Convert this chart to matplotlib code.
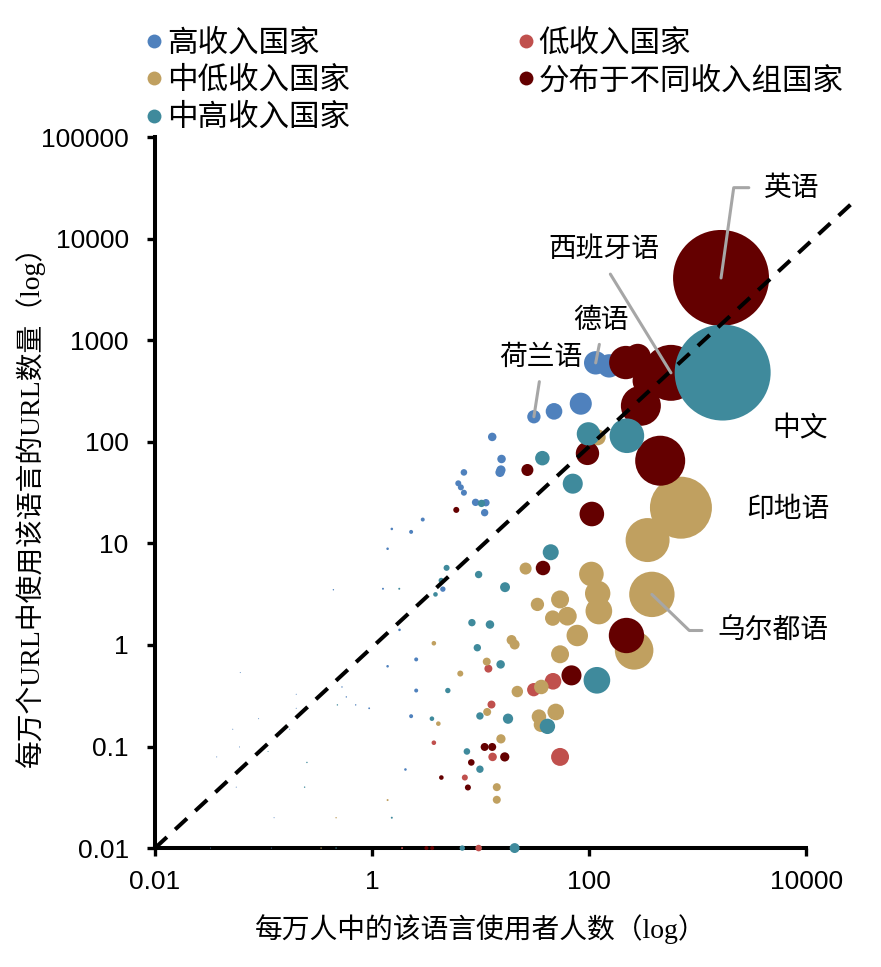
import matplotlib
matplotlib.use("Agg")
import matplotlib.pyplot as plt
from matplotlib.lines import Line2D

plt.rcParams['font.family'] = ['Liberation Sans', 'Noto Sans CJK SC', 'DejaVu Sans']

# 每个国家组：x = 每万人中的使用者人数, y = 每万个URL中的数量, size = 使用人数(百万，近似)
high_x = [115, 153, 83.8, 47.5, 31.0, 12.8, 15.6, 15.4, 15.1, 7.02, 6.23, 6.58, 7.02, 8.99, 11.2, 10.9,
          2.93, 2.29, 1.52, 1.39, 4.49, 1.26, 0.44, 1.79, 2.55, 1.39, 2.55, 0.94, 2.29, 2.03,
          0.061, 0.528, 0.579, 0.200, 0.200, 0.706, 0.090, 0.052, 0.174, 0.060, 0.037, 0.056,
          0.125, 0.118, 0.0324]
high_y = [601, 561, 238, 200, 177, 112, 67.9, 52.9, 50.1, 50.1, 39.1, 35.7, 31.6, 25.4, 25.2, 20.1,
          17.2, 13.0, 13.9, 8.87, 3.55, 3.58, 3.50, 1.41, 0.721, 0.617, 0.356, 0.238, 0.199, 0.0594,
          0.535, 0.386, 0.308, 0.327, 0.238, 0.257, 0.188, 0.148, 0.148, 0.099, 0.079, 0.0398,
          0.0199, 0.01, 0.01]
high_s = [83, 83, 74, 42, 27, 11, 11, 13, 13, 6.6, 5.5, 5.5, 5.5, 8.3, 8.3, 8.3,
          2.4, 2.4, 1.0, 1.0, 4.4, 0.6, 0.3, 1.0, 2.4, 1.0, 2.4, 0.5, 2.4, 1.0,
          0.15, 0.3, 0.3, 0.15, 0.15, 0.3, 0.15, 0.15, 0.15, 0.15, 0.15, 0.15,
          0.15, 0.15, 0.15]

low_x = [54, 46.5, 30.9, 11.8, 12.6, 12.9, 3.71, 7.16, 9.59, 1.89]
low_y = [0.079, 0.439, 0.363, 0.585, 0.259, 0.079, 0.109, 0.0495, 0.01, 0.01]
low_s = [49, 42, 27, 9.7, 9.7, 11, 3.2, 5.5, 6.6, 0.6]

lmid_x = [702, 346, 379, 260, 120, 105, 120, 123, 54, 33.4, 46.2, 63.1, 77.8, 19.3, 20.6, 54,
          26.0, 36.3, 21.8, 49.3, 34.5, 36.0, 15.4, 14.1, 14.1, 3.71, 11.4, 6.50, 4.08, 11.5,
          1.39, 0.466, 0.339]
lmid_y = [22.5, 10.8, 3.15, 0.885, 111, 5.0, 3.22, 2.16, 2.81, 2.51, 1.84, 1.92, 1.24, 1.12, 1.01, 0.81,
          5.66, 0.386, 0.348, 0.219, 0.197, 0.164, 0.119, 0.0398, 0.0299, 1.04, 0.686, 0.523, 0.168, 0.219,
          0.0297, 0.0199, 0.01]
lmid_s = [584, 294, 313, 226, 39, 92, 98, 108, 49, 27, 36, 53, 70, 15, 15, 49,
          22, 32, 20, 42, 32, 32, 13, 9.7, 9.7, 3.2, 9.7, 5.5, 3.2, 9.7,
          0.6, 0.3, 0.3]

mixed_x = [1644, 568, 218, 281, 300, 346, 452, 221, 96.6, 27.0, 106, 37.6, 68.8, 16.7, 10.9, 12.8,
           5.97, 8.21, 4.35, 7.64, 3.58, 3.17]
mixed_y = [4120, 479, 605, 689, 227, 400, 65.3, 1.24, 77.1, 52.9, 19.5, 5.73, 0.502, 0.079, 0.099, 0.099,
           21.4, 0.0697, 0.0495, 0.0395, 0.01, 0.01]
mixed_s = [1400, 476, 169, 103, 243, 137, 380, 190, 83, 22, 92, 32, 61, 13, 9.7, 9.7,
           5.5, 6.6, 3.2, 5.5, 2.4, 2.4]

umid_x = [1702, 223, 98.6, 37.1, 70.7, 44.3, 16.8, 15.3, 118, 17.9, 41.3, 10.2, 4.86, 9.59, 4.34, 3.84,
          1.78, 8.32, 12.2, 9.33, 4.99, 3.56, 9.86, 7.48, 9.86, 1.52, 0.479, 0.110, 0.251, 0.239,
          20.6, 6.78, 0.466]
umid_y = [482, 115, 120, 69.2, 38.8, 8.19, 3.71, 0.644, 0.449, 0.188, 0.158, 24.8, 5.75, 4.94, 4.32, 3.15,
          3.58, 1.66, 1.59, 0.94, 0.356, 0.188, 0.200, 0.0894, 0.0598, 0.0199, 0.257, 0.0894, 0.0697, 0.0398,
          0.01, 0.01, 0.01]
umid_s = [1400, 182, 83, 32, 61, 39, 15, 11, 108, 16, 36, 8.3, 5.5, 8.3, 4.4, 3.2,
          0.6, 8.3, 11, 8.3, 4.4, 3.2, 8.3, 6.6, 8.3, 0.6, 0.3, 0.15, 0.3, 0.3,
          15, 4.4, 0.3]

diag_x = [0.01, 26000]
diag_y = [0.01, 22000]

group_names = ['高收入国家', '中低收入国家', '中高收入国家', '低收入国家', '分布于不同收入组国家']
colors = {'高收入国家': '#4F81BD', '低收入国家': '#C0504D', '中低收入国家': '#C0A060',
          '分布于不同收入组国家': '#640000', '中高收入国家': '#3F8A9C'}

cjk = ['Noto Sans CJK SC', 'DejaVu Sans']
mixed_font = ['Liberation Serif', 'Noto Sans CJK SC']

fig = plt.figure(figsize=(8.81, 9.67), dpi=100)
ax = fig.add_axes([0.176, 0.123, 0.739, 0.735])

k = 3.41  # bubble area scale
series = [('高收入国家', high_x, high_y, high_s),
          ('低收入国家', low_x, low_y, low_s),
          ('中低收入国家', lmid_x, lmid_y, lmid_s),
          ('分布于不同收入组国家', mixed_x, mixed_y, mixed_s),
          ('中高收入国家', umid_x, umid_y, umid_s)]
for name, xs, ys, ss in series:
    ax.scatter(xs, ys, s=[v * k for v in ss], color=colors[name], linewidths=0,
               clip_on=False, zorder=3)

ax.plot(diag_x, diag_y, color='black', lw=2.9, linestyle=(0, (4, 2.8)), clip_on=False, zorder=4)

ax.set_xscale('log')
ax.set_yscale('log')
ax.set_xlim(0.01, 10000)
ax.set_ylim(0.01, 100000)
ax.set_xticks([0.01, 1, 100, 10000])
ax.set_xticklabels(['0.01', '1', '100', '10000'])
ax.set_yticks([0.01, 0.1, 1, 10, 100, 1000, 10000, 100000])
ax.set_yticklabels(['0.01', '0.1', '1', '10', '100', '1000', '10000', '100000'])
ax.minorticks_off()
ax.tick_params(direction='out', length=6, width=2.4, labelsize=19)
ax.tick_params(axis='y', pad=13)
ax.tick_params(axis='x', pad=10)
for side in ['top', 'right']:
    ax.spines[side].set_visible(False)
for side in ['left', 'bottom']:
    ax.spines[side].set_linewidth(2.9)

ax.set_xlabel('每万人中的该语言使用者人数（log）', family=mixed_font, fontsize=20)
ax.set_ylabel('每万个URL中使用该语言的URL数量（log）', family=mixed_font, fontsize=20)
ax.xaxis.set_label_coords(0.5, -0.093)
ax.yaxis.set_label_coords(-0.169, 0.49)

grey = '#A6A6A6'
def label(txt, x, y, dx, dy, ha='center', relpos=(0.5, 0), conn=None, shrink=6, line=True):
    props = None
    if line:
        props = dict(arrowstyle='-', color=grey, lw=2.2, shrinkA=shrink, shrinkB=0, relpos=relpos)
        if conn:
            props['connectionstyle'] = conn
    ax.annotate(txt, xy=(x, y), xytext=(dx, dy), textcoords='offset points', ha=ha, va='center',
                fontsize=20, family=cjk, arrowprops=props, zorder=5, annotation_clip=False)

label('英语', mixed_x[0], mixed_y[0], 31, 65, ha='left', relpos=(0, 0.5),
      conn='angle,angleA=0,angleB=82', shrink=9)
label('西班牙语', mixed_x[1], mixed_y[1], -48, 89, shrink=6)
label('德语', high_x[0], high_y[0], 4, 31, shrink=5)
label('荷兰语', high_x[4], high_y[4], 5, 43, shrink=5)
label('乌尔都语', lmid_x[2], lmid_y[2], 47, -26, ha='left', relpos=(0, 0.5),
      conn='angle,angleA=0,angleB=136', shrink=9)
label('中文', umid_x[0], umid_y[0], 56, -40, line=False)
label('印地语', lmid_x[0], lmid_y[0], 77, -1, line=False)

handles = [Line2D([], [], marker='o', linestyle='none', markersize=10, markeredgewidth=0,
                  color=colors[n]) for n in group_names]
fig.legend(handles, group_names, loc='upper left', bbox_to_anchor=(0.1646, 0.971), ncol=2,
           frameon=False, prop=dict(family=cjk, size=22), handlelength=0.6, handletextpad=0.12,
           columnspacing=5.45, labelspacing=0.2, borderpad=0, borderaxespad=0)

fig.savefig('out.png', dpi=100)
